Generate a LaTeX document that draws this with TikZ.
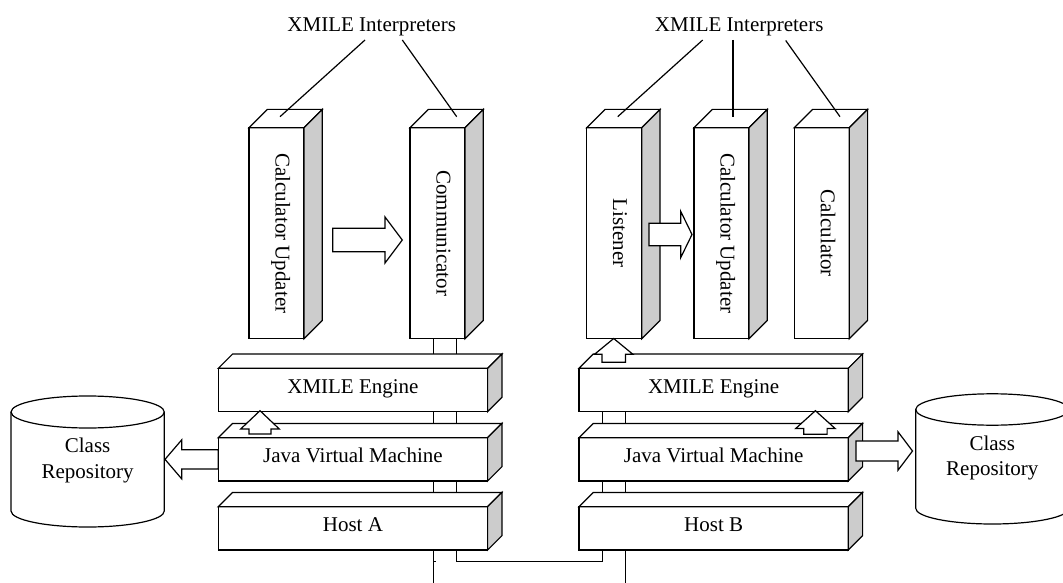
\documentclass[tikz,border=0pt]{standalone}
\usepackage{fontspec}
\setmainfont{Liberation Serif}
\newcommand\mkcuboid[2]{%
  \filldraw[face] (#1.north west) -- ++(#2,-#2) -- ([shift={(#2,-#2)}]#1.north east) -- (#1.north east) -- cycle;
  \filldraw[shade] (#1.north east) -- ([shift={(#2,-#2)}]#1.north east) -- ([shift={(#2,-#2)}]#1.south east) -- (#1.south east) -- cycle;}
\newcommand\blkarrow[6]{%
  \filldraw[face, shift={#1}, rotate=#2] (0,#5) -- (#3-#4,#5) -- (#3-#4,#6) -- (#3,0) -- (#3-#4,-#6) -- (#3-#4,-#5) -- (0,-#5) -- cycle;}
\begin{document}
\begin{tikzpicture}[x=1pt,y=-1pt,
  ln/.style={line width=1.2pt, line join=miter},
  face/.style={ln, draw=black, fill=white},
  shade/.style={ln, draw=black, fill=black!20},
  colbox/.style={face, minimum width=55pt, minimum height=211pt, inner sep=0pt, outer sep=0pt, anchor=north west},
  laybox/.style={face, minimum width=269.3pt, minimum height=43.3pt, inner sep=0pt, outer sep=0pt, anchor=north west},
  lbl/.style={font=\fontsize{21}{25}\selectfont, inner sep=0pt},
  vlbl/.style={lbl, rotate=-90, anchor=base},
]
\useasboundingbox (0,0) rectangle (1063,583);
\clip (0,0) rectangle (1063,583);

% ---- wiring (drawn first, boxes cover it)
\coordinate (wA1) at (433.3,338.7);
\coordinate (wA2) at (456.7,338.7);
\coordinate (wB1) at (602.3,362.3);
\coordinate (wB2) at (625.7,362.3);
\coordinate (netA) at (433.3,583);
\coordinate (netB) at (625.7,583);
\coordinate (jn) at (456.7,561.7);
\draw[ln] (wA1) -- (netA);
\draw[ln] (433.3,561.7) -- (435.8,561.7);
\draw[ln] (wA2) -- (jn) -- (jn -| wB1) -- (wB1);
\draw[ln] (wB2) -- (netB);

% ---- layer boxes
\node[laybox] (xeA) at (218.3,368.3) {};
\mkcuboid{xeA}{14.3}
\node[laybox] (jvmA) at (218.3,437.7) {};
\mkcuboid{jvmA}{14.3}
\node[laybox] (hostA) at (218.3,506.7) {};
\mkcuboid{hostA}{14.3}
\node[laybox] (xeB) at (579,368.3) {};
\mkcuboid{xeB}{14.3}
\node[laybox] (jvmB) at (579,437.7) {};
\mkcuboid{jvmB}{14.3}
\node[laybox] (hostB) at (579,506.7) {};
\mkcuboid{hostB}{14.3}

\node[lbl, anchor=base] (xeAl) at ([yshift=18.5pt]xeA.south) {XMILE Engine};
\node[lbl, anchor=base] (jvmAl) at ([yshift=18.5pt]jvmA.south) {Java Virtual Machine};
\node[lbl, anchor=base] (hostAl) at ([yshift=18.5pt]hostA.south) {Host A};
\node[lbl, anchor=base] (xeBl) at ([yshift=18.5pt]xeB.south) {XMILE Engine};
\node[lbl, anchor=base] (jvmBl) at ([yshift=18.5pt]jvmB.south) {Java Virtual Machine};
\node[lbl, anchor=base] (hostBl) at ([yshift=18.5pt]hostB.south) {Host B};

% ---- columns (interpreters)
\node[colbox] (cuA) at (249,127.7) {};
\mkcuboid{cuA}{18.3}
\node[colbox] (comm) at (410,127.7) {};
\mkcuboid{comm}{18.3}
\node[colbox] (lis) at (586.7,127.7) {};
\mkcuboid{lis}{18.3}
\node[colbox] (cuB) at (694,127.7) {};
\mkcuboid{cuB}{18.3}
\node[colbox] (calc) at (794.3,127.7) {};
\mkcuboid{calc}{18.3}

\node[vlbl] (cuAl) at ([xshift=-1pt]cuA.center) {Calculator Updater};
\node[vlbl] (comml) at ([xshift=-1pt]comm.center) {Communicator};
\node[vlbl] (lisl) at ([xshift=-1pt]lis.center) {Listener};
\node[vlbl] (cuBl) at ([xshift=-1pt]cuB.center) {Calculator Updater};
\node[vlbl] (calcl) at ([xshift=-1pt]calc.center) {Calculator};

% ---- block arrows
\blkarrow{(332.7,240)}{0}{69.6}{17.3}{11.7}{23}
\blkarrow{(649,234.5)}{0}{43}{11.3}{11.2}{23.2}
\blkarrow{(jvmA.west)}{180}{53.3}{16.7}{9.7}{19.5}
\blkarrow{(856,451)}{0}{56.5}{14.5}{10}{19.2}
\blkarrow{(260,434)}{90}{23.3}{18.3}{11}{19.3}
\blkarrow{(815.4,434.2)}{90}{23.5}{17.8}{11.7}{19.7}
\blkarrow{(613.7,362.3)}{90}{23.8}{15.8}{11.7}{19.2}

% ---- class repositories
\filldraw[face] (11,412) -- (11,511) arc[start angle=180,end angle=360,x radius=76.65pt,y radius=16pt]
  -- (164.3,412) arc[start angle=0,end angle=180,x radius=76.65pt,y radius=16pt] -- cycle;
\draw[ln] (11,412) arc[start angle=180,end angle=360,x radius=76.65pt,y radius=16pt];
\node[lbl, align=center, font=\fontsize{21}{26}\selectfont] (repA) at (87.65,460.4) {Class\\Repository};

\filldraw[face] (915.7,409.5) -- (915.7,508.3) arc[start angle=180,end angle=360,x radius=76.65pt,y radius=15.7pt]
  -- (1069,409.5) arc[start angle=0,end angle=180,x radius=76.65pt,y radius=15.7pt] -- cycle;
\draw[ln] (915.7,409.5) arc[start angle=180,end angle=360,x radius=76.65pt,y radius=15.7pt];
\node[lbl, align=center, font=\fontsize{21}{25}\selectfont] (repB) at (992.3,458) {Class\\Repository};

% ---- interpreter labels and leader lines
\node[lbl, anchor=base] (intA) at (371.7,31.7) {XMILE Interpreters};
\node[lbl, anchor=base] (intB) at (739.2,31.7) {XMILE Interpreters};
\coordinate (iA1) at (365,40);
\coordinate (iA2) at (402.3,40);
\coordinate (iB1) at (702.7,40);
\coordinate (iB2) at (733,40);
\coordinate (iB3) at (785.7,40.5);
\coordinate (tA1) at (280,116.7);
\coordinate (tA2) at (456.7,116.7);
\coordinate (tB1) at (617.7,116.7);
\coordinate (tB2) at (733,116.7);
\coordinate (tB3) at (840,116.7);
\draw[ln] (iA1) -- (tA1);
\draw[ln] (iA2) -- (tA2);
\draw[ln] (iB1) -- (tB1);
\draw[ln] (iB2) -- (tB2);
\draw[ln] (iB3) -- (tB3);
\end{tikzpicture}
\end{document}
